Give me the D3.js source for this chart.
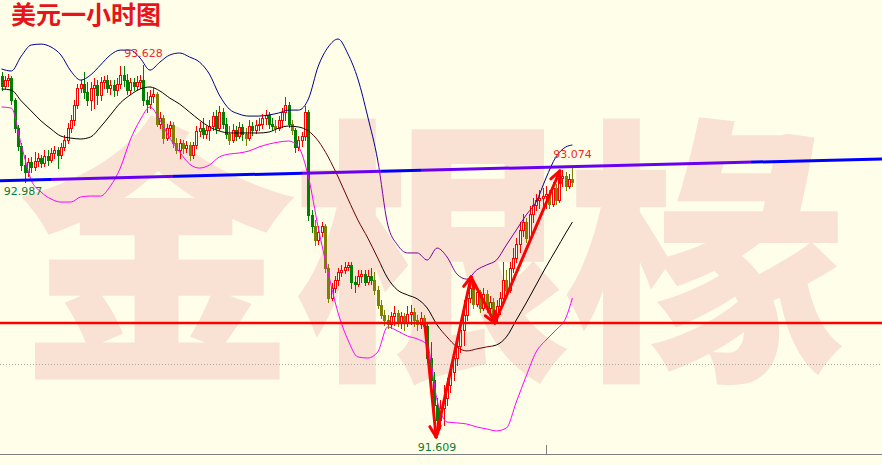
<!DOCTYPE html>
<html><head><meta charset="utf-8">
<script src="https://cdn.jsdelivr.net/npm/d3@7"></script>
<style>
html,body{margin:0;padding:0;background:#FFFFE9;}
svg{display:block;}
</style></head>
<body>
<svg id="chart" width="882" height="465"></svg>
<script>
// ---------------- DATA ----------------
const title = "美元一小时图";
const watermark = ["金","根","椽"];
const prevClose = 93.567;
const closes = [93.512,93.545,93.556,93.435,93.281,93.182,93.078,93.039,93.094,93.067,
 93.100,93.116,93.089,93.127,93.105,93.144,93.160,93.133,93.177,93.215,
 93.281,93.325,93.408,93.501,93.523,93.479,93.435,93.501,93.518,93.463,
 93.534,93.545,93.501,93.518,93.490,93.523,93.573,93.545,93.490,93.534,
 93.512,93.534,93.545,93.435,93.413,93.457,93.468,93.303,93.336,93.226,
 93.281,93.298,93.199,93.160,93.199,93.171,93.188,93.133,93.188,93.265,
 93.281,93.248,93.270,93.292,93.347,93.281,93.369,93.303,93.248,93.215,
 93.270,93.237,93.287,93.248,93.226,93.292,93.270,93.298,93.303,93.336,
 93.353,93.303,93.292,93.281,93.325,93.369,93.408,93.303,93.270,93.177,
 93.215,93.237,93.369,92.803,92.742,92.665,92.709,92.742,92.511,92.346,
 92.401,92.445,92.489,92.500,92.517,92.528,92.434,92.423,92.467,92.478,
 92.434,92.467,92.445,92.390,92.308,92.253,92.225,92.203,92.247,92.264,
 92.214,92.247,92.214,92.258,92.269,92.225,92.203,92.236,92.192,92.016,
 91.895,91.758,91.675,91.741,91.796,91.868,91.939,92.016,92.082,92.170,
 92.253,92.346,92.401,92.313,92.379,92.291,92.368,92.291,92.324,92.247,
 92.302,92.346,92.445,92.390,92.511,92.566,92.643,92.720,92.764,92.676,
 92.808,92.858,92.885,92.896,92.907,92.918,92.863,92.951,92.885,93.006,
 93.017,92.962,93.001,92.984];
const highs = [93.589,93.567,93.578,93.567,93.446,93.298,93.199,93.133,93.116,93.122,
 93.149,93.144,93.133,93.160,93.160,93.171,93.182,93.177,93.199,93.243,
 93.309,93.353,93.435,93.523,93.545,93.589,93.534,93.534,93.556,93.545,
 93.562,93.567,93.573,93.545,93.545,93.556,93.622,93.622,93.578,93.556,
 93.556,93.567,93.573,93.628,93.479,93.490,93.501,93.479,93.369,93.353,
 93.303,93.320,93.314,93.226,93.221,93.215,93.210,93.204,93.204,93.292,
 93.314,93.336,93.292,93.325,93.369,93.380,93.402,93.391,93.336,93.292,
 93.303,93.292,93.314,93.303,93.281,93.325,93.314,93.325,93.336,93.358,
 93.380,93.369,93.336,93.325,93.347,93.391,93.452,93.424,93.325,93.281,
 93.237,93.259,93.402,93.380,92.830,92.775,92.742,92.764,92.753,92.533,
 92.429,92.467,92.511,92.528,92.544,92.544,92.544,92.467,92.500,92.500,
 92.500,92.500,92.511,92.489,92.412,92.335,92.280,92.253,92.269,92.302,
 92.280,92.269,92.264,92.302,92.308,92.291,92.253,92.269,92.253,92.214,
 92.104,91.939,91.796,91.785,91.868,91.906,91.978,92.060,92.115,92.198,
 92.335,92.390,92.456,92.423,92.401,92.390,92.401,92.390,92.357,92.346,
 92.335,92.379,92.544,92.500,92.544,92.621,92.676,92.764,92.808,92.786,
 92.852,92.896,92.918,92.940,92.951,92.962,92.940,92.984,92.973,93.039,
 93.050,93.039,93.028,93.074];
const lows = [93.490,93.501,93.512,93.413,93.259,93.160,93.050,92.987,93.017,93.039,
 93.050,93.072,93.067,93.072,93.078,93.094,93.116,93.061,93.116,93.160,
 93.199,93.259,93.298,93.391,93.479,93.446,93.408,93.380,93.391,93.413,
 93.435,93.501,93.479,93.468,93.457,93.463,93.501,93.512,93.468,93.468,
 93.490,93.490,93.501,93.408,93.369,93.391,93.424,93.292,93.281,93.199,
 93.215,93.237,93.177,93.144,93.116,93.144,93.149,93.105,93.116,93.171,
 93.237,93.226,93.226,93.215,93.270,93.254,93.270,93.281,93.226,93.193,
 93.204,93.215,93.226,93.215,93.188,93.215,93.243,93.254,93.270,93.281,
 93.303,93.281,93.270,93.259,93.270,93.287,93.325,93.287,93.248,93.149,
 93.160,93.182,93.215,92.775,92.709,92.638,92.643,92.687,92.489,92.324,
 92.335,92.379,92.418,92.467,92.484,92.500,92.401,92.379,92.412,92.434,
 92.418,92.423,92.423,92.368,92.291,92.236,92.198,92.181,92.181,92.198,
 92.192,92.181,92.170,92.192,92.203,92.192,92.170,92.181,92.170,91.994,
 91.868,91.648,91.609,91.631,91.648,91.758,91.829,91.895,91.978,92.049,
 92.088,92.225,92.324,92.291,92.302,92.269,92.280,92.269,92.269,92.236,
 92.214,92.258,92.335,92.357,92.379,92.489,92.544,92.599,92.687,92.654,
 92.665,92.764,92.830,92.841,92.852,92.841,92.841,92.852,92.863,92.874,
 92.962,92.940,92.951,92.962];

// Bollinger band readings, sampled at these bar indices
const bandIdx = [0,3,6,9,12,15,18,21,24,27,30,33,36,39,42,45,48,51,54,57,60,63,66,69,72,75,78,81,84,87,
 90,93,96,99,102,105,108,111,114,117,120,123,126,129,132,135,138,141,144,147,150,153,156,159,162,165,168,171,173];
const bbUpper = [93.606,93.595,93.677,93.738,93.743,93.727,93.683,93.595,93.545,93.573,
 93.628,93.683,93.710,93.710,93.666,93.600,93.644,93.683,93.694,93.672,
 93.644,93.578,93.463,93.386,93.358,93.347,93.347,93.353,93.364,93.380,
 93.380,93.441,93.622,93.727,93.771,93.688,93.551,93.342,93.105,92.753,
 92.638,92.594,92.594,92.555,92.621,92.572,92.478,92.450,92.500,92.528,
 92.555,92.638,92.720,92.803,92.874,93.006,93.122,93.177,93.188];
const bbMid = [93.496,93.490,93.430,93.375,93.320,93.276,93.237,93.226,93.221,93.232,
 93.287,93.353,93.419,93.463,93.496,93.507,93.485,93.446,93.413,93.369,
 93.325,93.287,93.265,93.254,93.254,93.254,93.254,93.259,93.281,93.292,
 93.287,93.265,93.210,93.122,93.012,92.891,92.775,92.676,92.566,92.456,
 92.390,92.363,92.341,92.291,92.198,92.132,92.077,92.055,92.066,92.077,
 92.088,92.132,92.225,92.319,92.418,92.517,92.610,92.704,92.764];
const bbLower = [93.397,93.391,93.188,92.995,92.929,92.891,92.874,92.874,92.902,92.907,
 92.907,92.962,93.061,93.215,93.325,93.397,93.325,93.226,93.149,93.083,
 93.061,93.078,93.122,93.138,93.144,93.155,93.177,93.193,93.204,93.210,
 93.177,93.012,92.731,92.484,92.264,92.115,92.022,92.016,92.049,92.187,
 92.165,92.137,92.121,92.088,91.785,91.664,91.659,91.653,91.637,91.626,
 91.615,91.631,91.774,91.917,92.049,92.115,92.170,92.236,92.346];

const resistance = 92.209;          // red horizontal level
const gridLevel = 91.983;           // dotted grid level
const trendPts = [[0, 92.992], [260, 93.108]];   // [bar index, price]
const arrowPts = [[128.3, 92.198], [131.7, 91.582], [142.3, 92.462], [149.5, 92.209], [169.2, 93.045]];
const priceLabels = [
  {i: 43, p: 93.628, side: "high"},
  {i: 7, p: 92.987, side: "low"},
  {i: 132, p: 91.609, side: "low2"},
  {i: 173, p: 93.074, side: "high"}
];
const sepIdx = 165;

// ---------------- RENDER ----------------
const W = 882, H = 465, BG = "#FFFFE9";
const svg = d3.select("#chart");
const defs = svg.append("defs");
svg.append("rect").attr("width", W).attr("height", H).attr("fill", BG);

const xs = d3.scaleLinear().domain([0, closes.length - 1]).range([1.5, 572.4]);
const ys = d3.scaleLinear().domain([91.609, 93.628]).range([432, 65]);

// watermark
const wm = svg.append("g");
watermark.forEach((ch, k) => {
  wm.append("text").attr("x", 157 + k * 275).attr("y", 236)
    .attr("text-anchor", "middle").attr("dominant-baseline", "central")
    .attr("font-family", "'Noto Sans CJK SC','Noto Sans CJK JP',sans-serif")
    .attr("font-weight", 900).attr("font-size", 280)
    .attr("fill", "#F9E2D4").text(ch);
});

// dotted grid line
svg.append("line").attr("x1", 0).attr("x2", W)
  .attr("y1", Math.round(ys(gridLevel)) + 0.5).attr("y2", Math.round(ys(gridLevel)) + 0.5)
  .attr("stroke", "#A8A8A8").attr("stroke-width", 1).attr("stroke-dasharray", "1,2");

// candles
const OLIVE_RANGES = [[47,58],[69,69],[74,74],[83,83],[88,88],[95,99],[113,128],[143,173]];
const isOlive = i => OLIVE_RANGES.some(([a,b]) => i >= a && i <= b);
const candles = closes.map((c, i) => ({i, o: i === 0 ? prevClose : closes[i - 1], c, h: highs[i], l: lows[i]}));
const cg = svg.append("g").attr("shape-rendering", "crispEdges");
candles.forEach(d => {
  const cx = Math.round(xs(d.i));
  const bull = d.c >= d.o;
  const col = bull ? "#FF0000" : (isOlive(d.i) ? "#808000" : "#008000");
  cg.append("line").attr("x1", cx + 0.5).attr("x2", cx + 0.5)
    .attr("y1", Math.round(ys(d.h))).attr("y2", Math.round(ys(d.l)) + 1)
    .attr("stroke", col).attr("stroke-width", 1);
  const yt = Math.round(ys(Math.max(d.o, d.c)));
  const yb = Math.round(ys(Math.min(d.o, d.c)));
  if (bull) {
    const hh = Math.max(1, yb - yt);
    cg.append("rect").attr("x", cx - 0.5).attr("y", yt + 0.5).attr("width", 2).attr("height", hh)
      .attr("fill", BG).attr("stroke", col).attr("stroke-width", 1);
  } else {
    cg.append("rect").attr("x", cx - 1).attr("y", yt).attr("width", 3).attr("height", Math.max(1, yb - yt + 1))
      .attr("fill", col);
  }
});

// bands with colour segments
function segGradient(id, base, segs) {
  const g = defs.append("linearGradient").attr("id", id).attr("gradientUnits", "userSpaceOnUse")
    .attr("x1", 0).attr("x2", W).attr("y1", 0).attr("y2", 0);
  g.append("stop").attr("offset", 0).attr("stop-color", base);
  segs.forEach(([a, b, col]) => {
    const oa = xs(a) / W, ob = xs(b) / W;
    g.append("stop").attr("offset", oa).attr("stop-color", base);
    g.append("stop").attr("offset", oa).attr("stop-color", col);
    g.append("stop").attr("offset", ob).attr("stop-color", col);
    g.append("stop").attr("offset", ob).attr("stop-color", base);
  });
  g.append("stop").attr("offset", 1).attr("stop-color", base);
  return `url(#${id})`;
}
const bandLine = arr => d3.line().x((d, k) => xs(bandIdx[k])).y(d => ys(d)).curve(d3.curveMonotoneX)(arr);
svg.append("path").attr("d", bandLine(bbLower)).attr("fill", "none").attr("stroke", "#FF00FF").attr("stroke-width", 1);
svg.append("path").attr("d", bandLine(bbMid)).attr("fill", "none")
  .attr("stroke", segGradient("gmid", "#000000", [[93, 115, "#6B0000"], [133, 149, "#6B0000"]])).attr("stroke-width", 1);
svg.append("path").attr("d", bandLine(bbUpper)).attr("fill", "none")
  .attr("stroke", segGradient("gup", "#00008B", [[114, 162, "#7A00A0"]])).attr("stroke-width", 1);

// red horizontal level
svg.append("line").attr("x1", 0).attr("x2", W).attr("y1", ys(resistance)).attr("y2", ys(resistance))
  .attr("stroke", "#FF0000").attr("stroke-width", 2.5);

// trend line, extended across width
const [t0, t1] = trendPts;
const slope = (ys(t1[1]) - ys(t0[1])) / (xs(t1[0]) - xs(t0[0]));
const yAt = x => ys(t0[1]) + slope * (x - xs(t0[0]));
svg.append("line").attr("x1", 0).attr("x2", W).attr("y1", yAt(0)).attr("y2", yAt(W))
  .attr("stroke", segGradient("gtr", "#0000FF", [[15, 52, "#6A00F0"], [91, 115, "#6A00F0"], [127, 227, "#6A00F0"]]))
  .attr("stroke-width", 3);

// arrows
const ap = arrowPts.map(([i, p]) => [xs(i), ys(p)]);
const ag = svg.append("g").attr("stroke", "#FF0000").attr("stroke-width", 3).attr("stroke-linecap", "round").attr("fill", "none");
for (let k = 0; k < ap.length - 1; k++) {
  const [x0, y0] = ap[k], [x1, y1] = ap[k + 1];
  ag.append("line").attr("x1", x0).attr("y1", y0).attr("x2", x1).attr("y2", y1);
  const ang = Math.atan2(y1 - y0, x1 - x0);
  [-1, 1].forEach(s => {
    const a = ang + Math.PI + s * 0.45;
    ag.append("line").attr("x1", x1).attr("y1", y1)
      .attr("x2", x1 + 12 * Math.cos(a)).attr("y2", y1 + 12 * Math.sin(a));
  });
}

// price labels
const fmt = d3.format(".3f");
const offs = {high: -8, low: 13.5, low2: 19};
priceLabels.forEach(d => {
  const isHigh = d.side === "high";
  svg.append("text").attr("x", xs(d.i) + (d.side === "low" ? -1.5 : 0)).attr("y", ys(d.p) + offs[d.side])
    .attr("text-anchor", "middle").attr("font-family", "'DejaVu Sans',Verdana,sans-serif").attr("font-size", 11)
    .attr("fill", isHigh ? "#F02828" : "#0A7A36").text(fmt(d.p));
});

// bottom axis line + separator tick
svg.append("line").attr("x1", 0).attr("x2", W).attr("y1", 454.5).attr("y2", 454.5)
  .attr("stroke", "#808080").attr("stroke-width", 1);
svg.append("line").attr("x1", Math.round(xs(sepIdx)) + 0.5).attr("x2", Math.round(xs(sepIdx)) + 0.5)
  .attr("y1", 445).attr("y2", 454).attr("stroke", "#808080").attr("stroke-width", 1);

// title
svg.append("text").attr("x", 11).attr("y", 24)
  .attr("font-family", "'Noto Sans CJK SC',sans-serif").attr("font-weight", 700).attr("font-size", 25)
  .attr("fill", "#E8141B").text(title);
</script>
</body></html>
